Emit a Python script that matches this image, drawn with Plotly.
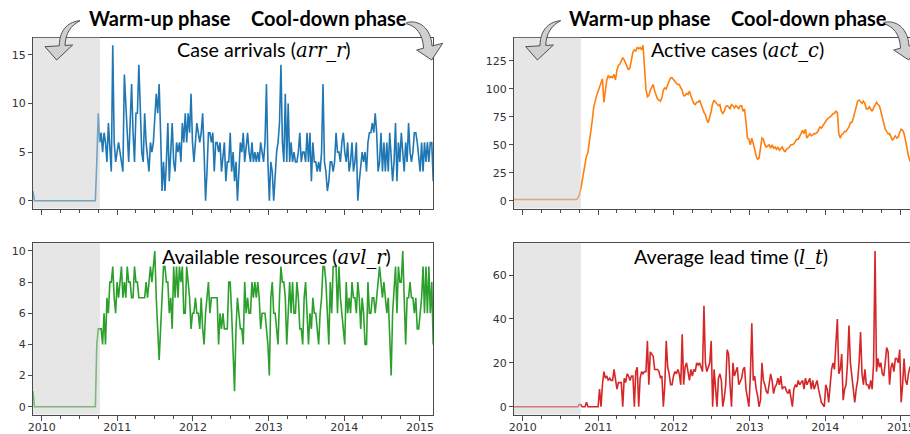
import plotly.graph_objects as go
import pandas as pd

# ---------------- data ----------------
start_date = "2009-11-20"
warmup_end = "2010-10-09"
axis_end = "2015-03-05"
year_ticks = ["2010", "2011", "2012", "2013", "2014", "2015"]

arr_r = [1, 0, 0, 0, 0, 0, 0, 0, 0, 0, 0,
         0, 0, 0, 0, 0, 0, 0, 0, 0, 0, 0,
         0, 0, 0, 0, 0, 0, 0, 0, 0, 0, 0,
         0, 0, 0, 0, 0, 0, 0, 0, 0, 0, 0,
         4, 9, 6, 7, 5, 7, 6, 4, 8, 5,
         3, 16, 6, 4, 5, 6, 5, 4, 3, 13,
         10, 8, 4, 8, 12, 7, 4, 9, 9, 14,
         8, 5, 4, 9, 6, 4, 3, 6, 5, 6,
         8, 11, 9, 12, 7, 1, 4, 1, 4, 8,
         2, 5, 8, 4, 3, 6, 5, 6, 4, 8,
         6, 9, 6, 9, 7, 11, 6, 4, 6, 8,
         7, 6, 7, 9, 5, 0, 3, 7, 7, 6,
         7, 3, 6, 6, 5, 6, 3, 5, 6, 2,
         4, 4, 7, 3, 5, 2, 4, 0, 4, 6,
         5, 7, 4, 6, 7, 5, 4, 6, 4, 5,
         4, 5, 4, 6, 5, 4, 6, 12, 4, 0,
         4, 3, 0, 3, 5, 6, 8, 14, 6, 4,
         11, 4, 10, 4, 6, 4, 5, 4, 4, 5,
         7, 4, 5, 5, 4, 7, 4, 7, 2, 6,
         4, 4, 3, 4, 3, 5, 12, 4, 3, 1,
         2, 4, 4, 3, 4, 7, 5, 5, 4, 6,
         7, 5, 4, 6, 3, 4, 6, 3, 4, 6,
         0, 2, 4, 5, 4, 5, 3, 6, 7, 7,
         8, 7, 9, 7, 3, 4, 7, 3, 6, 3,
         6, 3, 7, 5, 2, 4, 8, 2, 6, 4,
         7, 5, 3, 6, 4, 8, 5, 4, 5, 7,
         7, 6, 4, 3, 6, 3, 6, 4, 6, 4,
         6, 6, 2]

act_c = [1, 1, 1, 1, 1, 1, 1, 1, 1, 1, 1,
         1, 1, 1, 1, 1, 1, 1, 1, 1, 1, 1,
         1, 1, 1, 1, 1, 1, 1, 1, 1, 1, 1,
         1, 1, 1, 1, 1, 1, 1, 1, 1, 1, 1,
         2, 5, 10, 18, 26, 33, 40, 43, 52, 60,
         72, 84, 90, 94, 98, 102, 105, 109, 88, 98,
         108, 112, 110, 111, 110, 113, 108, 117, 121, 122,
         125, 128, 126, 123, 121, 117, 119, 126, 133, 135,
         134, 137, 136, 137, 135, 139, 118, 100, 93, 94,
         99, 102, 104, 98, 95, 91, 90, 89, 92, 99,
         101, 100, 104, 108, 110, 110, 108, 106, 105, 104,
         104, 101, 99, 94, 94, 96, 95, 98, 93, 90,
         87, 86, 88, 88, 90, 86, 81, 79, 77, 72,
         70, 74, 80, 87, 90, 88, 86, 85, 86, 80,
         78, 80, 84, 85, 84, 82, 86, 85, 83, 85,
         84, 82, 85, 85, 80, 82, 70, 56, 55, 50,
         56, 52, 46, 40, 37, 38, 46, 56, 55, 50,
         48, 49, 50, 47, 50, 47, 48, 46, 48, 45,
         47, 48, 45, 44, 46, 47, 48, 50, 50, 51,
         53, 55, 55, 57, 60, 63, 60, 64, 56, 58,
         60, 58, 59, 60, 60, 61, 63, 66, 65, 67,
         70, 72, 73, 74, 75, 76, 78, 78, 80, 79,
         60, 56, 59, 60, 62, 62, 64, 66, 70, 70,
         74, 79, 85, 89, 90, 88, 87, 89, 87, 82,
         82, 84, 82, 80, 83, 86, 88, 86, 85, 80,
         74, 67, 64, 62, 60, 60, 57, 54, 56, 58,
         56, 57, 61, 64, 63, 60, 54, 46, 40, 36,
         33, 30, 28]

avl_r = [1, 0, 0, 0, 0, 0, 0, 0, 0, 0, 0,
         0, 0, 0, 0, 0, 0, 0, 0, 0, 0, 0,
         0, 0, 0, 0, 0, 0, 0, 0, 0, 0, 0,
         0, 0, 0, 0, 0, 0, 0, 0, 0, 0, 0,
         4, 5, 5, 5, 4, 6, 4, 7, 6, 8,
         8, 9, 7, 6, 8, 7, 8, 9, 7, 8,
         7, 9, 8, 8, 7, 7, 9, 8, 8, 7,
         7, 7, 7, 7, 8, 7, 8, 9, 8, 9,
         10, 7, 5, 3, 5, 7, 9, 9, 8, 8,
         6, 7, 5, 9, 7, 9, 7, 9, 8, 9,
         6, 6, 9, 8, 7, 5, 6, 6, 7, 6,
         6, 5, 7, 5, 4, 6, 7, 8, 6, 7,
         7, 7, 7, 7, 4, 6, 5, 6, 5, 5,
         5, 8, 8, 6, 3, 1, 5, 7, 6, 5,
         5, 4, 8, 6, 7, 6, 6, 8, 7, 8,
         7, 8, 7, 5, 6, 6, 6, 5, 4, 2,
         7, 8, 6, 6, 5, 4, 7, 9, 8, 8,
         7, 4, 6, 8, 6, 8, 6, 6, 8, 7,
         5, 5, 4, 7, 8, 6, 4, 6, 5, 7,
         6, 6, 5, 4, 6, 7, 9, 9, 8, 6,
         4, 8, 6, 9, 9, 9, 6, 9, 7, 6,
         5, 4, 8, 6, 7, 6, 8, 7, 7, 6,
         8, 7, 5, 7, 6, 4, 4, 8, 6, 6,
         7, 7, 6, 7, 8, 9, 8, 7, 8, 7,
         6, 7, 4, 2, 6, 8, 9, 6, 9, 8,
         8, 10, 7, 4, 7, 7, 8, 7, 7, 6,
         7, 5, 5, 6, 7, 9, 6, 9, 6, 9,
         6, 8, 4]

l_t = [0, 0, 0, 0, 0, 0, 0, 0, 0, 0, 0,
       0, 0, 0, 0, 0, 0, 0, 0, 0, 0, 0,
       0, 0, 0, 0, 0, 0, 0, 0, 0, 0, 0,
       0, 0, 0, 0, 0, 0, 0, 0, 0, 0, 0,
       0, 1, 1, 0, 0, 0, 2, 0, 0, 0,
       0, 0, 0, 0, 0, 8, 0, 10, 16, 13,
       14, 12, 13, 12, 12, 17, 13, 8, 11, 11,
       11, 0, 13, 11, 15, 14, 12, 14, 14, 0,
       16, 18, 0, 13, 16, 15, 16, 16, 30, 10,
       25, 24, 23, 17, 17, 17, 16, 13, 14, 0,
       10, 30, 18, 15, 10, 10, 14, 16, 15, 17,
       15, 10, 33, 10, 18, 20, 16, 12, 17, 14,
       17, 16, 20, 19, 20, 18, 16, 46, 20, 16,
       18, 20, 30, 0, 17, 8, 0, 13, 15, 12,
       0, 4, 10, 26, 24, 10, 0, 20, 14, 16,
       18, 10, 12, 13, 17, 18, 8, 4, 0, 14,
       38, 12, 14, 8, 5, 0, 3, 20, 12, 10,
       7, 6, 10, 15, 12, 6, 9, 10, 13, 10,
       14, 8, 9, 9, 7, 6, 8, 3, 0, 8,
       10, 9, 12, 10, 11, 12, 8, 13, 10, 12,
       13, 8, 12, 8, 10, 12, 8, 5, 2, 1,
       0, 10, 8, 2, 12, 17, 20, 17, 29, 40,
       15, 17, 24, 3, 8, 10, 20, 37, 20, 14,
       6, 2, 8, 12, 20, 34, 15, 10, 17, 10,
       10, 8, 12, 8, 20, 71, 16, 22, 18, 20,
       15, 14, 20, 27, 25, 10, 18, 20, 16, 22,
       22, 20, 26, 2, 10, 22, 12, 10, 15, 18,
       18, 10, 15]

series = [
    ("arr_r", arr_r, "#1f77b4", "Case arrivals", "arr_r", [-0.8, 16.8], 5),
    ("act_c", act_c, "#ff7f0e", "Active cases", "act_c", [-7, 146], 25),
    ("avl_r", avl_r, "#2ca02c", "Available resources", "avl_r", [-0.5, 10.5], 2),
    ("l_t", l_t, "#d62728", "Average lead time", "l_t", [-3.55, 74.55], 20),
]

# ---------------- layout helpers ----------------
W, H = 910, 434


def px(x):
    return x / W


def py(y):
    return 1 - y / H


t0 = pd.Timestamp(start_date)
t1 = pd.Timestamp(axis_end)
LEFT_X = (33, 433)
RIGHT_X = (514, 910)
right_end = t0 + (t1 - t0) * ((RIGHT_X[1] - RIGHT_X[0]) / (LEFT_X[1] - LEFT_X[0]))
TOP_Y = (37.5, 208.5)
BOT_Y = (243.2, 414.5)

panels = [
    (LEFT_X, TOP_Y, t1, False, True),
    (RIGHT_X, TOP_Y, right_end, False, False),
    (LEFT_X, BOT_Y, t1, True, True),
    (RIGHT_X, BOT_Y, right_end, True, False),
]

fig = go.Figure()
AX = "#4a4a4a"
tick_font = dict(family="DejaVu Sans", size=11, color="#333333")

shapes = []
annotations = []
for i, ((name, vals, color, label, mathlab, yr, ydt), (xd, yd, xend, showx, my)) in enumerate(zip(series, panels)):
    n = i + 1
    xa = "x" if n == 1 else f"x{n}"
    ya = "y" if n == 1 else f"y{n}"
    dates = pd.date_range(start_date, periods=len(vals), freq="7D")
    fig.add_trace(go.Scatter(x=dates, y=vals, mode="lines", xaxis=xa, yaxis=ya,
                             line=dict(color=color, width=1.6), showlegend=False,
                             hoverinfo="skip", cliponaxis=True))
    xkey = "xaxis" if n == 1 else f"xaxis{n}"
    ykey = "yaxis" if n == 1 else f"yaxis{n}"
    fig.update_layout(**{
        xkey: dict(domain=[px(xd[0]), px(xd[1])], anchor=ya, type="date",
                   range=[t0, xend], tick0="2010-01-01", dtick="M12",
                   tickformat="%Y", ticks="outside", ticklen=5, tickwidth=1,
                   tickcolor=AX, showticklabels=showx, tickfont=tick_font,
                   ticklabelstandoff=-3, ticklabeloverflow="allow",
                   minor=dict(dtick="M3", tick0="2010-01-01", ticks="outside",
                              ticklen=3, tickcolor=AX, tickwidth=1, showgrid=False),
                   showline=True, linecolor=AX, linewidth=1, mirror=True,
                   showgrid=False, zeroline=False, fixedrange=True,
                   automargin=False),
        ykey: dict(domain=[py(yd[1]), py(yd[0])], anchor=xa, range=yr,
                   dtick=ydt, tick0=0, ticks="outside", ticklen=4, tickwidth=1,
                   tickcolor=AX, tickfont=tick_font, showline=True,
                   linecolor=AX, linewidth=1, mirror=my, showgrid=False,
                   zeroline=False, fixedrange=True, automargin=False),
    })
    shapes.append(dict(type="rect", xref=xa, yref=f"{ya} domain",
                       x0=t0, x1=pd.Timestamp(warmup_end), y0=0, y1=1,
                       fillcolor="rgba(205,205,205,0.5)", line=dict(width=0),
                       layer="above"))

# panel titles
title_pos = [(175, 50), (649, 50), (160, 257), (632, 257)]
for (name, vals, color, label, mathlab, yr, ydt), (tx, ty) in zip(series, title_pos):
    annotations.append(dict(
        xref="paper", yref="paper", x=px(tx), y=py(ty), xanchor="left",
        yanchor="middle", showarrow=False,
        text=(f"{label} (<span style=\"font-family:DejaVu Serif;font-size:19.5px\">"
              f"<i>{mathlab}</i></span>)"),
        font=dict(family="Lato", size=19.7, color="#000000")))

# phase headings
for tx, txt in [(87, "Warm-up phase"), (249, "Cool-down phase"),
                (567, "Warm-up phase"), (729, "Cool-down phase")]:
    annotations.append(dict(
        xref="paper", yref="paper", x=px(tx), y=py(18), xanchor="left",
        yanchor="middle", showarrow=False, text=f"<b>{txt}</b>",
        font=dict(family="Lato", size=20, color="#000000")))


def arrow_path(pts_cmds, dx):
    out = []
    for cmd, pts in pts_cmds:
        coords = " ".join(f"{px(x + dx):.5f},{py(y):.5f}" for x, y in pts)
        out.append(f"{cmd} {coords}")
    return " ".join(out) + " Z"


warm_arrow = [("M", [(80, 20.7)]), ("C", [(70, 21.5), (59.5, 28), (59.3, 45.8)]),
              ("L", [(45, 46.7)]), ("L", [(56.7, 60)]), ("L", [(72.7, 45)]),
              ("L", [(65, 45.4)]), ("C", [(65.5, 33), (71, 25.5), (80, 20.7)])]
cool_arrow = [("M", [(406.7, 22.5)]), ("C", [(419, 19.5), (431, 28), (432, 46)]),
              ("L", [(442.7, 43.3)]), ("L", [(431.7, 60)]), ("L", [(416.7, 50)]),
              ("L", [(423.5, 48.2)]), ("C", [(423, 34), (416, 26), (406.7, 23.8)])]
for arrow, dx in [(warm_arrow, 0), (cool_arrow, 0), (warm_arrow, 480.7), (cool_arrow, 477)]:
    shapes.append(dict(type="path", xref="paper", yref="paper",
                       path=arrow_path(arrow, dx), fillcolor="#d0d0d0",
                       line=dict(color="#505050", width=1), layer="above"))

fig.update_layout(template="none", width=W, height=H, autosize=False,
                  margin=dict(l=0, r=0, t=0, b=0, pad=0),
                  paper_bgcolor="white", plot_bgcolor="white",
                  shapes=shapes, annotations=annotations)

fig.write_html("out.html", config={"displayModeBar": False, "staticPlot": True},
               post_script="document.body.style.margin='0';document.body.style.padding='0';")
